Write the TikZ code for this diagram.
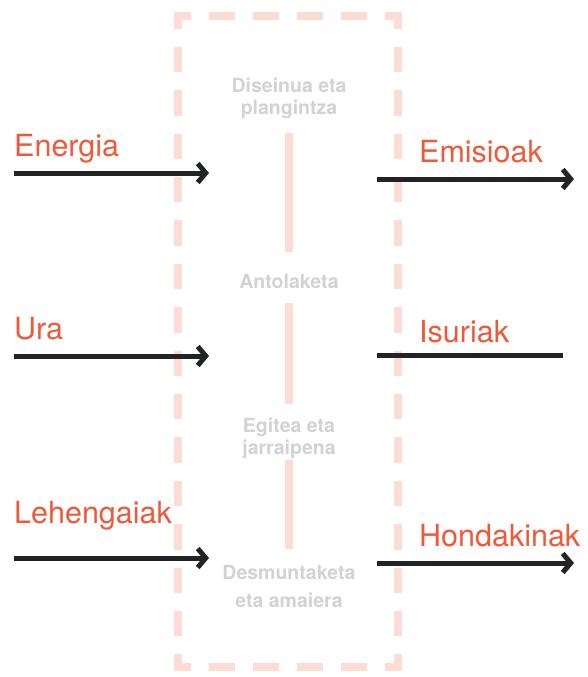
\documentclass[tikz,border=0pt]{standalone}
\usepackage{fontspec}
\setmainfont{TeX Gyre Heros}
\usetikzlibrary{arrows.meta}
\definecolor{flowred}{RGB}{240,88,56}
\definecolor{arrowblack}{RGB}{33,35,37}
\definecolor{framepink}{RGB}{253,220,212}
\definecolor{stagegray}{RGB}{210,210,210}
\tikzset{
  flowlabel/.style={anchor=base west, inner sep=0pt, text=flowred, font=\fontsize{30.5}{36}\selectfont},
  stagelabel/.style={inner sep=0pt, text=stagegray, align=center, font=\bfseries\fontsize{19.5}{22}\selectfont},
  flowarrow/.style={line width=5pt, draw=arrowblack, -{Straight Barb[length=8pt,width=19pt,line width=5pt]}},
  flowline/.style={line width=5pt, draw=arrowblack},
  framehside/.style={line width=8pt, draw=framepink, dash pattern=on 26pt off 18pt, dash phase=9pt},
  framevside/.style={line width=8pt, draw=framepink, dash pattern=on 25.4pt off 18pt, dash phase=12.7pt},
  stageline/.style={line width=7.5pt, draw=framepink}
}
\begin{document}
\begin{tikzpicture}[x=1pt,y=-1pt]
\useasboundingbox (0,0) rectangle (587,677);
% frame
\coordinate (tl) at (178,16);
\coordinate (tr) at (398,16);
\coordinate (br) at (398,667);
\coordinate (bl) at (178,667);
\draw[framehside] ([xshift=-4pt]tl) -- ([xshift=4pt]tr);
\draw[framevside] (tr) -- (br);
\draw[framehside] ([xshift=4pt]br) -- ([xshift=-4pt]bl);
\draw[framevside] (bl) -- (tl);
% stages
\node[stagelabel] (s1) at (289,98.5) {Diseinua eta\\plangintza};
\node[stagelabel, anchor=base] (s2) at (289,288) {Antolaketa};
\node[stagelabel] (s3) at (289,438.5) {Egitea eta\\jarraipena};
\node[stagelabel, font=\bfseries\fontsize{19.5}{28}\selectfont] (s4) at (289,586.5) {Desmuntaketa\\eta amaiera};
\coordinate (l1a) at (289,133); \coordinate (l1b) at (289,252);
\coordinate (l2a) at (289,303); \coordinate (l2b) at (289,404);
\coordinate (l3a) at (289,460); \coordinate (l3b) at (289,549);
\draw[stageline] (l1a) -- (l1b);
\draw[stageline] (l2a) -- (l2b);
\draw[stageline] (l3a) -- (l3b);
% inputs
\node[flowlabel] (energia) at (14,156) {Energia};
\node[flowlabel] (ura) at (14,339) {Ura};
\node[flowlabel] (lehen) at (14,523) {Lehengaiak};
\coordinate (e0) at (14,173); \coordinate (e1) at (209,173);
\coordinate (u0) at (14,356); \coordinate (u1) at (209,356);
\coordinate (h0) at (14,558); \coordinate (h1) at (209,558);
\draw[flowarrow] (e0) -- (e1);
\draw[flowarrow] (u0) -- (u1);
\draw[flowarrow] (h0) -- (h1);
% outputs
\node[flowlabel] (emis) at (419,162) {Emisioak};
\node[flowlabel] (isur) at (419,342) {Isuriak};
\node[flowlabel] (hond) at (419,546) {Hondakinak};
\coordinate (m0) at (377,179); \coordinate (m1) at (574,179);
\coordinate (i0) at (377,355); \coordinate (i1) at (563,355);
\coordinate (d0) at (377,563); \coordinate (d1) at (574,563);
\draw[flowarrow] (m0) -- (m1);
\draw[flowline] (i0) -- (i1);
\draw[flowarrow] (d0) -- (d1);
\end{tikzpicture}
\end{document}
